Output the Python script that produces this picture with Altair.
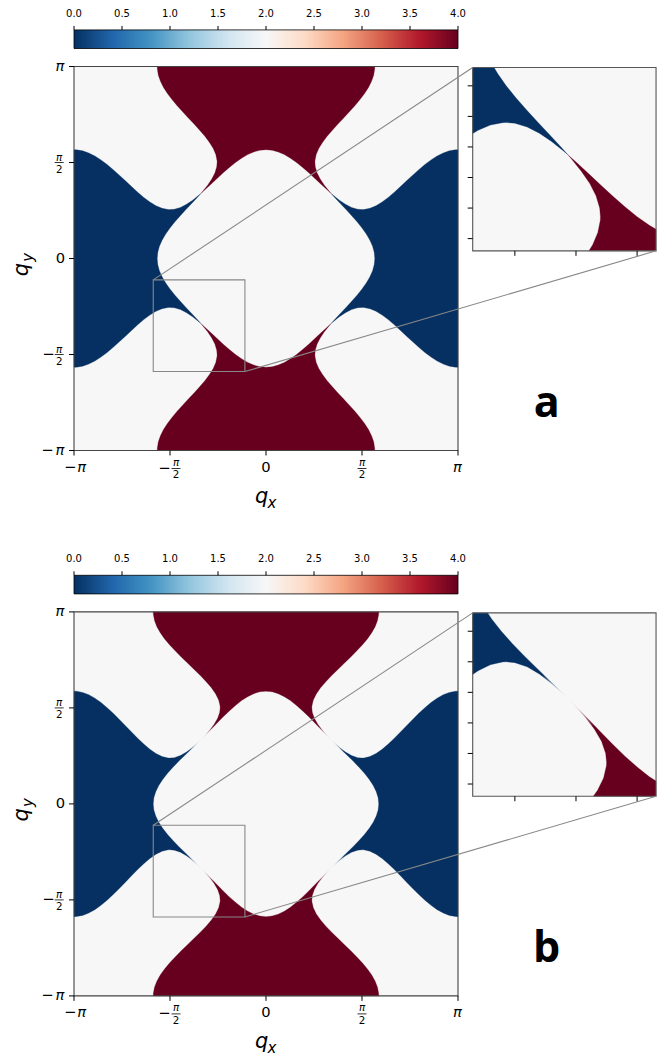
import numpy as np
import pandas as pd
import altair as alt

PI = float(np.pi)

# ---------------- values ----------------
# boundary curve qy = g(qx) (upper half).  Mirrored / swapped copies of the
# same curve bound every coloured region (blue = 0, red = 4, grey = 2).
curve_q = [0.0, 0.1, 0.2, 0.3, 0.4, 0.5, 0.6, 0.7, 0.8, 0.9, 1.0, 1.1, 1.2, 1.3,
           1.4, 1.5, 1.5708, 1.6, 1.7, 1.8, 1.9, 2.0, 2.1, 2.2, 2.3, 2.4, 2.5,
           2.6, 2.7, 2.8, 2.9, 3.0, 3.1, 3.1416]
curve_a = [1.780, 1.771, 1.744, 1.700, 1.641, 1.571, 1.490, 1.402, 1.310, 1.216,
           1.123, 1.035, 0.955, 0.887, 0.836, 0.806, 0.800, 0.801, 0.821, 0.863,
           0.925, 1.000, 1.086, 1.177, 1.271, 1.364, 1.454, 1.538, 1.613, 1.677,
           1.727, 1.762, 1.778, 1.780]
tip_a = 1.065
curve_b = [1.845, 1.835, 1.804, 1.755, 1.690, 1.611, 1.522, 1.425, 1.323, 1.219,
           1.116, 1.018, 0.927, 0.850, 0.791, 0.757, 0.750, 0.751, 0.774, 0.823,
           0.893, 0.979, 1.074, 1.176, 1.280, 1.383, 1.482, 1.575, 1.659, 1.730,
           1.786, 1.824, 1.843, 1.845]
tip_b = 1.058
# panel b: the wedges fade out near the crossing (half length, half width)
fade_b = [0.30, 0.07]

inset_x = [-1.845, -0.345]
inset_y = [-1.85, -0.35]
inset_xticks = [-1.5, -1.0, -0.5]
inset_yticks = [-0.5, -0.75, -1.0, -1.25, -1.5, -1.75]
cbar_ticks = [0.0, 0.5, 1.0, 1.5, 2.0, 2.5, 3.0, 3.5, 4.0]
cbar_range = [0.0, 4.0]
rdbu_r = ["#053061", "#2166ac", "#4393c3", "#92c5de", "#d1e5f0", "#f7f7f7",
          "#fddbc7", "#f4a582", "#d6604d", "#b2182b", "#67001f"]

BLUE, RED, GREY = rdbu_r[0], rdbu_r[-1], rdbu_r[5]

# ---------------- geometry helpers ----------------
W = 384
S = W / (2 * PI)          # px per unit


def u(px):
    return px / S


def px2x(px):
    return -PI + (px - 74) / S


def px2y(py):
    return PI - (py - 67.3) / S


def cb2x(v):
    return -PI + 2 * PI * (v - cbar_range[0]) / (cbar_range[1] - cbar_range[0])


X0 = px2x(472.7)     # left of inset in main-axis units
YT = px2y(68.3)      # top of inset
MAG = 2.0
XI1 = X0 + MAG * (inset_x[1] - inset_x[0])
YI0 = YT - MAG * (inset_y[1] - inset_y[0])
BOX = (inset_x[0], inset_x[1], inset_y[0], inset_y[1])


def top_region(g, t):
    pts = sorted(list(zip(curve_q, g)) + [(t, t)])
    up = [(q, v) for q, v in pts if q >= t]
    low = [(q, v) for q, v in pts if q <= t]
    poly = [(-v, q) for q, v in up]
    poly += [(v, q) for q, v in reversed(up)]
    poly += [(q, v) for q, v in reversed(low)]
    poly += [(-q, v) for q, v in low if q > 0]
    return poly


def clip(poly, xmin, xmax, ymin, ymax):
    def edge(pts, inside, inter):
        out = []
        for k in range(len(pts)):
            c, p = pts[k], pts[k - 1]
            if inside(c):
                if not inside(p):
                    out.append(inter(p, c))
                out.append(c)
            elif inside(p):
                out.append(inter(p, c))
        return out

    def ix(c0):
        return lambda p, q: (c0, p[1] + (c0 - p[0]) / (q[0] - p[0]) * (q[1] - p[1]))

    def iy(c0):
        return lambda p, q: (p[0] + (c0 - p[1]) / (q[1] - p[1]) * (q[0] - p[0]), c0)

    pts = poly
    if pts:
        pts = edge(pts, lambda a: a[0] >= xmin, ix(xmin))
    if pts:
        pts = edge(pts, lambda a: a[0] <= xmax, ix(xmax))
    if pts:
        pts = edge(pts, lambda a: a[1] >= ymin, iy(ymin))
    if pts:
        pts = edge(pts, lambda a: a[1] <= ymax, iy(ymax))
    return pts


def to_inset(pts):
    return [(X0 + MAG * (x - inset_x[0]), YT + MAG * (y - inset_y[1])) for x, y in pts]


def with_inset(polys):
    return polys + [to_inset(c) for c in (clip(p, *BOX) for p in polys) if len(c) > 2]


XS = alt.Scale(domain=[-PI, PI], nice=False, zero=False)
YS = alt.Scale(domain=[-PI, PI], nice=False, zero=False)


def X(f):
    return alt.X(f, type="quantitative", scale=XS, axis=None)


def Y(f):
    return alt.Y(f, type="quantitative", scale=YS, axis=None)


def poly_df(polys):
    rows = []
    for k, poly in enumerate(polys):
        for i, (x, y) in enumerate(poly):
            rows.append({"pid": k, "i": i, "x": x, "y": y})
    return pd.DataFrame(rows)


def rules(rows, color="black", width=1.0):
    return alt.Chart(pd.DataFrame(rows)).mark_rule(color=color, strokeWidth=width).encode(
        x=X("x"), y=Y("y"), x2="x2", y2="y2")


def rects(rows, **kw):
    return alt.Chart(pd.DataFrame(rows)).mark_rect(**kw).encode(
        x=X("x"), y=Y("y"), x2="x2", y2="y2")


def text_layer(rows, size, style="normal", weight="normal", font="DejaVu Sans",
               align="center", baseline="middle", angle=0):
    return alt.Chart(pd.DataFrame(rows)).mark_text(
        font=font, fontSize=size, fontStyle=style, fontWeight=weight,
        align=align, baseline=baseline, angle=angle, color="black"
    ).encode(x=X("x"), y=Y("y"), text="t:N")


def polys(df, col):
    return alt.Chart(df).mark_line(interpolate="linear-closed", fill=col, stroke=col,
                                   strokeWidth=0.3).encode(
        x=X("x"), y=Y("y"), detail="pid:N", order="i:Q")


def fade_layers(t, L, w):
    """grey veil with an alpha gradient over the wedge tips (panel b)."""
    off = (1 - L / (L + w)) / 2
    stops = [(0.0, 0.0), (off, 0.0), (0.36, 0.85), (0.5, 1.0), (0.64, 0.85),
             (1 - off, 0.0), (1.0, 0.0)]
    out = []
    for sgn in (1, -1):
        tips = [(-t, t), (t, -t)] if sgn == 1 else [(t, t), (-t, -t)]
        d = (1 / np.sqrt(2), sgn / np.sqrt(2))
        n = (-d[1], d[0])
        ps = []
        for cx, cy in tips:
            ps.append([(cx + a * L * d[0] + b * w * n[0], cy + a * L * d[1] + b * w * n[1])
                       for a, b in ((-1, -1), (1, -1), (1, 1), (-1, 1))])
        grad = {"gradient": "linear", "x1": 0, "x2": 1,
                "y1": 1 if sgn == 1 else 0, "y2": 0 if sgn == 1 else 1,
                "stops": [{"offset": o, "color": f"rgba(247,247,247,{a})"} for o, a in stops]}
        out.append(alt.Chart(poly_df(with_inset(ps))).mark_line(
            interpolate="linear-closed", fill=grad, strokeOpacity=0, strokeWidth=0).encode(
            x=X("x"), y=Y("y"), detail="pid:N", order="i:Q"))
    return out


def panel(g, t, letter, fade=None):
    top = top_region(g, t)
    bottom = [(x, -y) for x, y in top]
    left = [(-y, x) for x, y in top]
    right = [(y, x) for x, y in top]

    bg_layer = rects([{"x": -PI, "x2": PI, "y": -PI, "y2": PI},
                      {"x": X0, "x2": XI1, "y": YI0, "y2": YT}], fill=GREY)

    tv = [-PI, -PI / 2, 0, PI / 2, PI]
    tick_rows = [{"x": v, "x2": v, "y": -PI, "y2": -PI - u(5)} for v in tv] + \
                [{"x": -PI, "x2": -PI - u(5), "y": v, "y2": v} for v in tv]
    for v in inset_xticks:
        xv = X0 + MAG * (v - inset_x[0])
        tick_rows.append({"x": xv, "x2": xv, "y": YI0, "y2": YI0 - u(5)})
    for v in inset_yticks:
        yv = YT + MAG * (v - inset_y[1])
        tick_rows.append({"x": X0, "x2": X0 - u(5), "y": yv, "y2": yv})
    tick_layer = rules(tick_rows)

    blue_layer = polys(poly_df(with_inset([left, right])), BLUE)
    red_layer = polys(poly_df(with_inset([top, bottom])), RED)
    fades = fade_layers(t, *fade) if fade else []

    main_frame = rects([{"x": -PI, "x2": PI, "y": -PI, "y2": PI}],
                       filled=False, stroke="#444444", strokeWidth=1.1)
    zoom_frame = rects([{"x": inset_x[0], "x2": inset_x[1], "y": inset_y[0], "y2": inset_y[1]}],
                       filled=False, stroke="#888888", strokeWidth=1.1)
    inset_frame = rects([{"x": X0, "x2": XI1, "y": YI0, "y2": YT}],
                        filled=False, stroke="#555555", strokeWidth=1.1)
    link_layer = rules([{"x": inset_x[0], "y": inset_y[1], "x2": X0, "y2": YT},
                        {"x": inset_x[1], "y": inset_y[0], "x2": XI1, "y2": YI0}],
                       color="#888888", width=1.1)

    # tick labels (pi notation)
    big = 14.7
    small = 10.3
    ylab_x = px2x(60)
    xlab_y = px2y(468.3)
    full = [
        {"x": px2x(70.2), "y": xlab_y, "t": "\u2212"},
        {"x": px2x(266), "y": xlab_y, "t": "0"},
        {"x": ylab_x + u(0.5), "y": 0, "t": "0"},
        {"x": px2x(47.3), "y": -PI, "t": "\u2212"},
        {"x": px2x(48.5), "y": -PI / 2, "t": "\u2212"},
        {"x": px2x(164.5), "y": px2y(469.3), "t": "\u2212"},
    ]
    full_pi = [
        {"x": px2x(81.7), "y": xlab_y, "t": "\u03c0"},
        {"x": px2x(457.5), "y": xlab_y, "t": "\u03c0"},
        {"x": ylab_x, "y": PI, "t": "\u03c0"},
        {"x": ylab_x, "y": -PI, "t": "\u03c0"},
    ]
    fr_x = [px2x(176), px2x(362)]
    fr_y = [PI / 2, -PI / 2]
    fr_num = [{"x": fx, "y": px2y(463.7), "t": "\u03c0"} for fx in fr_x] + \
             [{"x": px2x(59.2), "y": fy + u(4.8), "t": "\u03c0"} for fy in fr_y]
    fr_den = [{"x": fx, "y": px2y(476.2), "t": "2"} for fx in fr_x] + \
             [{"x": px2x(59.2), "y": fy - u(7.2), "t": "2"} for fy in fr_y]
    bar_rows = [{"x": fx - u(4.5), "x2": fx + u(4.5), "y": px2y(469.3), "y2": px2y(469.3)}
                for fx in fr_x] + \
               [{"x": px2x(59.2) - u(4.5), "x2": px2x(59.2) + u(4.5), "y": fy, "y2": fy}
                for fy in fr_y]
    bar_layer = rules(bar_rows, width=0.8)

    # colorbar
    cb_y0, cb_y1 = px2y(49.3), px2y(30.7)
    grad = {"gradient": "linear", "x1": 0, "x2": 1, "y1": 0, "y2": 0,
            "stops": [{"offset": k / (len(rdbu_r) - 1), "color": c} for k, c in enumerate(rdbu_r)]}
    cb_layer = rects([{"x": cb2x(cbar_range[0]), "x2": cb2x(cbar_range[1]),
                       "y": cb_y0, "y2": cb_y1}], fill=grad, stroke="black", strokeWidth=0.8)
    cb_ticks = rules([{"x": cb2x(v), "x2": cb2x(v), "y": cb_y1, "y2": cb_y1 + u(4)}
                      for v in cbar_ticks])
    cb_labels = text_layer([{"x": cb2x(v), "y": px2y(14.7), "t": f"{v:.1f}"} for v in cbar_ticks], 10)

    texts = [
        text_layer(full, big),
        text_layer(full_pi, big, style="italic"),
        text_layer(fr_num, small, style="italic"),
        text_layer(fr_den, small),
        bar_layer,
        text_layer([{"x": px2x(255), "y": px2y(503.3), "t": "q"}], 21, style="italic",
                   align="left", baseline="alphabetic"),
        text_layer([{"x": px2x(267.5), "y": px2y(508.3), "t": "x"}], 15, style="italic",
                   align="left", baseline="alphabetic"),
        text_layer([{"x": px2x(27.5), "y": px2y(277), "t": "q"}], 21, style="italic",
                   align="left", baseline="alphabetic", angle=270),
        text_layer([{"x": px2x(32.5), "y": px2y(262.5), "t": "y"}], 15, style="italic",
                   align="left", baseline="alphabetic", angle=270),
        text_layer([{"x": px2x(546.7), "y": px2y(417.5), "t": letter}], 43, weight="bold",
                   font="Open Sans", baseline="alphabetic"),
    ]

    return alt.layer(bg_layer, blue_layer, red_layer, *fades, main_frame, zoom_frame,
                     inset_frame, link_layer, tick_layer, cb_layer, cb_ticks, cb_labels,
                     *texts).properties(width=W, height=W)


chart = alt.vconcat(panel(curve_a, tip_a, "a"), panel(curve_b, tip_b, "b", fade_b),
                    spacing=161.4, bounds="flush").configure_view(stroke=None).properties(
    padding={"left": 2, "top": 0.5, "right": 0, "bottom": 0})

chart.save("out.html", embed_options={"renderer": "svg", "actions": False})
